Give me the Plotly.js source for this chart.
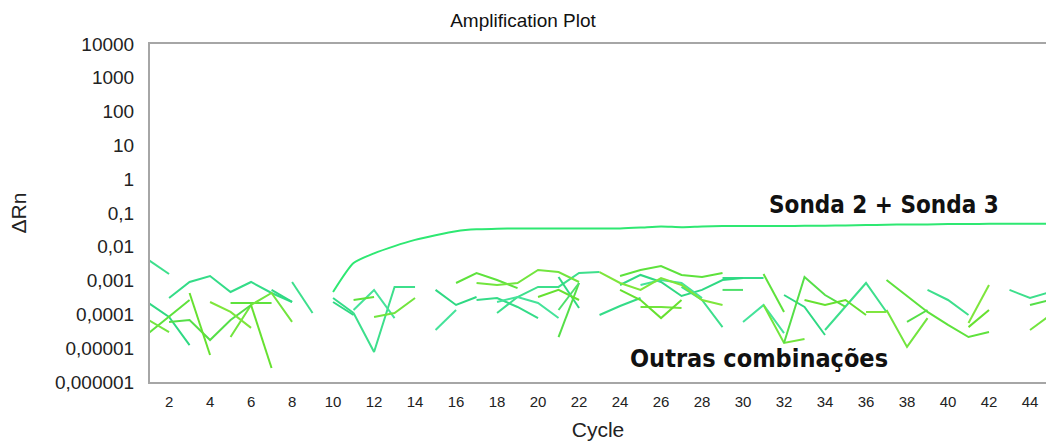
<!DOCTYPE html>
<html>
<head>
<meta charset="utf-8">
<script src="https://cdn.plot.ly/plotly-3.0.1.min.js"></script>
<style>html,body{margin:0;padding:0;background:#fff}#chart{width:1046px;height:444px}</style>
</head>
<body>
<div id="chart"></div>
<script>
const _ = null;
const cycles = [1,2,3,4,5,6,7,8,9,10,11,12,13,14,15,16,17,18,19,20,21,22,23,24,25,26,27,28,29,30,31,32,33,34,35,36,37,38,39,40,41,42,43,44,45];

// Sonda 2 + Sonda 3 (amplifying curve)
const sonda23 = [_,_,_,_,_,_,_,_,_,4.6e-4,3.3e-3,6.4e-3,1.05e-2,1.6e-2,2.2e-2,2.9e-2,3.3e-2,3.4e-2,3.5e-2,3.5e-2,3.5e-2,3.5e-2,3.5e-2,3.5e-2,3.7e-2,4.0e-2,3.8e-2,4.0e-2,4.1e-2,4.1e-2,4.1e-2,4.1e-2,4.2e-2,4.2e-2,4.3e-2,4.4e-2,4.5e-2,4.6e-2,4.6e-2,4.7e-2,4.7e-2,4.8e-2,4.8e-2,4.8e-2,4.8e-2];

// Outras combinações (noise curves, gaps where ΔRn <= 0)
const outra1 = [4.06e-3,1.57e-3,_,_,_,_,_,9.1e-4,1.10e-4,_,1.10e-4,7.7e-6,6.5e-4,6.5e-4,_,_,_,1.10e-4,3.27e-4,6.5e-4,6.5e-4,1.68e-3,1.79e-3,_,_,_,6.5e-4,2.67e-4,4.2e-5,_,_,_,_,3.45e-5,1.66e-4,8.5e-4,1.18e-4,_,5.3e-4,2.67e-4,9.6e-5,_,5.3e-4,3.05e-4,4.6e-4];
const outra2 = [_,3.05e-4,9.1e-4,1.37e-3,4.6e-4,9.1e-4,4.3e-4,2.33e-4,_,3.05e-4,1.10e-4,_,_,_,_,_,2.67e-4,3.05e-4,1.66e-4,7.8e-5,_,_,9.6e-5,1.77e-4,3.05e-4,_,_,_,1.19e-3,1.19e-3,1.19e-3,_,_,_,_,_,_,_,_,_,_,_,_,_,_];
const outra3 = [2.17e-4,8.4e-5,1.24e-5,_,_,_,5.3e-4,2.33e-4,_,2.33e-4,9.6e-5,_,_,_,5.3e-4,1.90e-4,3.27e-4,_,_,_,1.28e-3,1.55e-4,_,7.4e-4,1.47e-3,9.1e-4,3.5e-4,5.3e-4,1.04e-3,1.19e-3,_,3.75e-4,1.66e-4,2.46e-5,_,_,_,_,_,_,_,_,_,_,_];
const outra4 = [_,_,_,_,_,_,_,_,_,_,1.35e-4,5.3e-4,7.8e-5,_,3.45e-5,1.35e-4,_,2.33e-4,3.27e-4,2.17e-4,7.8e-5,_,_,_,7.4e-4,1.04e-3,8.5e-4,3.05e-4,_,6.0e-5,1.90e-4,2.8e-5,_,_,_,_,_,_,_,_,_,_,_,_,_];
const outra5 = [2.8e-5,8.4e-5,2.67e-4,_,2.17e-4,2.17e-4,2.17e-4,_,_,_,2.67e-4,3.27e-4,_,_,_,8.5e-4,1.68e-3,1.04e-3,6.0e-4,_,_,_,_,1.37e-3,2.06e-3,2.70e-3,1.47e-3,1.28e-3,1.68e-3,_,1.57e-3,1.18e-4,_,_,_,_,1.04e-3,3.5e-4,1.18e-4,4.9e-5,2.14e-5,3.0e-5,_,_,_];
const outra6 = [6.8e-5,3.0e-5,_,_,2.14e-5,1.90e-4,4.3e-4,6.0e-5,_,_,_,8.4e-5,1.10e-4,3.05e-4,_,_,8.5e-4,7.4e-4,8.5e-4,2.06e-3,1.79e-3,9.1e-4,_,_,1.66e-4,1.66e-4,1.55e-4,_,_,_,1.90e-4,1.43e-5,1.87e-5,_,_,_,1.35e-4,1.09e-5,7.8e-5,_,_,_,_,3.45e-5,9.6e-5];
const outra7 = [_,6.0e-5,6.8e-5,1.75e-5,6.8e-5,1.90e-4,_,_,_,_,_,_,_,_,_,_,_,_,_,_,2.14e-5,8.5e-4,_,_,_,_,_,_,_,_,_,1.43e-5,1.28e-3,3.75e-4,1.66e-4,_,_,6.0e-5,1.35e-4,_,_,_,_,1.90e-4,2.67e-4];
const outra8 = [_,_,4.3e-4,6.3e-6,_,1.90e-4,2.6e-6,_,_,_,_,_,_,_,_,_,_,_,_,3.27e-4,5.3e-4,2.67e-4,_,5.3e-4,2.67e-4,7.8e-5,2.67e-4,_,_,_,_,_,2.67e-4,1.90e-4,2.67e-4,9.6e-5,_,_,_,_,4.2e-5,1.35e-4,_,_,_];
const outra9 = [_,_,_,2.33e-4,1.18e-4,4.0e-5,_,_,_,_,_,_,_,_,_,_,_,_,_,_,_,_,1.79e-3,8.5e-4,5.3e-4,1.19e-3,7.4e-4,2.67e-4,1.90e-4,_,_,_,_,_,_,1.18e-4,1.18e-4,_,_,_,5.6e-5,7.4e-4,_,_,_];
const outra10 = [_,_,_,_,_,_,_,_,_,_,_,_,_,_,_,_,_,_,_,_,1.35e-4,8.5e-4,_,_,_,_,_,_,5.3e-4,5.3e-4,_,_,_,_,_,_,_,_,_,_,_,_,_,_,_];

const noiseSeries = [outra1, outra2, outra3, outra4, outra5, outra6, outra7, outra8, outra9, outra10];
const noiseColors = ['#3ddf8c', '#34dc88', '#2fd983', '#45e39a', '#5ee23c', '#72e53e', '#55df48', '#66e130', '#7ee63c', '#4ee06a'];

const xTicks = [2,4,6,8,10,12,14,16,18,20,22,24,26,28,30,32,34,36,38,40,42,44];
const yTicks = [1e-6,1e-5,1e-4,1e-3,1e-2,1e-1,1,10,100,1000,10000];
const yTickText = ['0,000001','0,00001','0,0001','0,001','0,01','0,1','1','10','100','1000','10000'];

const FONT = 'Liberation Sans, Arial, sans-serif';

const traces = noiseSeries.map((s, i) => ({
  x: cycles, y: s, type: 'scatter', mode: 'lines',
  connectgaps: false,
  line: {color: noiseColors[i], width: 2},
  hoverinfo: 'skip'
}));
traces.push({
  x: cycles, y: sonda23, type: 'scatter', mode: 'lines',
  line: {color: '#2ee872', width: 2, shape: 'spline', smoothing: 0.6},
  hoverinfo: 'skip'
});

const layout = {
  width: 1046, height: 444,
  margin: {l: 150, r: 0, t: 44, b: 62},
  paper_bgcolor: '#ffffff', plot_bgcolor: '#ffffff',
  showlegend: false,
  title: {text: 'Amplification Plot', x: 0.5, xref: 'container', xanchor: 'center',
          y: 0.955, yref: 'container', yanchor: 'middle',
          font: {family: FONT, size: 19, color: '#111'}},
  xaxis: {
    range: [1.07, 44.78], tickvals: xTicks, ticktext: xTicks.map(String),
    showgrid: false, zeroline: false,
    showline: true, linecolor: '#a6a6a6', linewidth: 2, mirror: true,
    ticks: 'outside', ticklen: 5, tickcolor: 'rgba(0,0,0,0)',
    tickfont: {family: FONT, size: 15, color: '#222'},
    title: {text: 'Cycle', standoff: 13, font: {family: FONT, size: 21, color: '#222'}}
  },
  yaxis: {
    type: 'log', range: [-6, 4], tickvals: yTicks, ticktext: yTickText,
    showgrid: false, zeroline: false,
    showline: true, linecolor: '#a6a6a6', linewidth: 2,
    ticks: 'outside', ticklen: 10, tickcolor: 'rgba(0,0,0,0)',
    tickfont: {family: FONT, size: 19, color: '#222'},
    title: {text: 'ΔRn', standoff: 23, font: {family: FONT, size: 21, color: '#222'}}
  },
  annotations: [
    {x: 36.9, y: -0.76, xref: 'x', yref: 'y', text: 'Sonda 2 + Sonda 3', showarrow: false,
     font: {family: 'DejaVu Sans Condensed, DejaVu Sans, sans-serif', size: 24, color: '#111', weight: 'bold'}},
    {x: 30.8, y: -5.29, xref: 'x', yref: 'y', text: 'Outras combinações', showarrow: false,
     font: {family: 'DejaVu Sans Condensed, DejaVu Sans, sans-serif', size: 25, color: '#111', weight: 'bold'}}
  ]
};

Plotly.newPlot('chart', traces, layout, {staticPlot: true, displayModeBar: false});
</script>
</body>
</html>
